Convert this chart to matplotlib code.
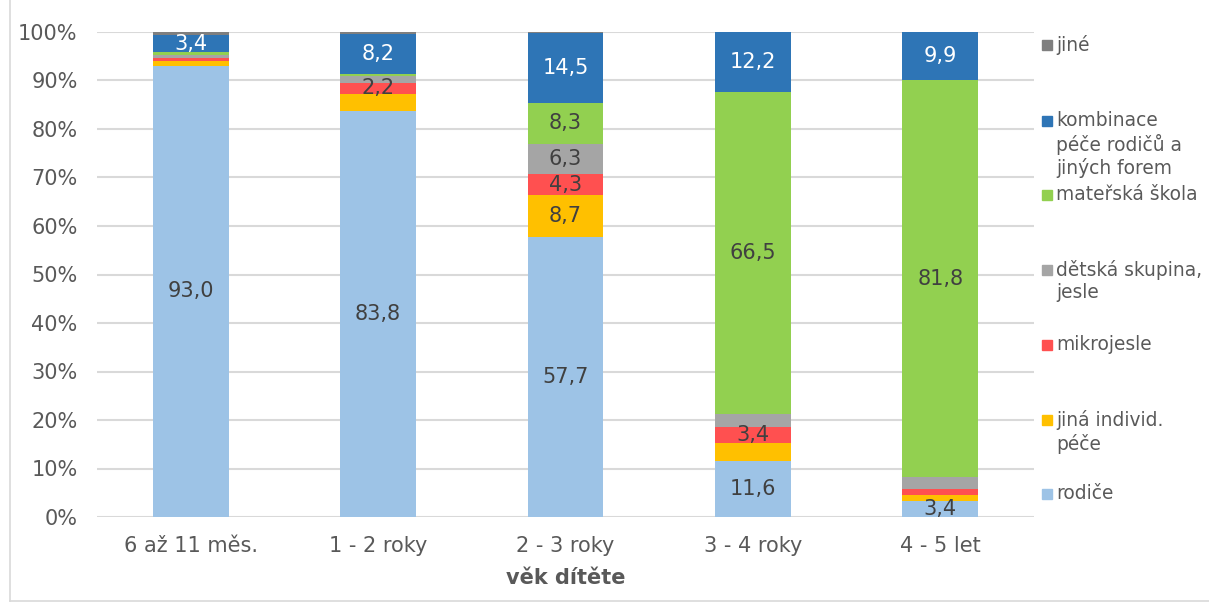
import matplotlib.pyplot as plt
import numpy as np
from matplotlib.patches import Rectangle
from matplotlib.lines import Line2D

plt.rcParams["font.family"] = ["DejaVu Sans"]

categories = ["6 až 11 měs.", "1 - 2 roky", "2 - 3 roky", "3 - 4 roky", "4 - 5 let"]

# series from bottom to top
series_names = ["rodiče", "jiná individ.\npéče", "mikrojesle", "dětská skupina,\njesle",
                "mateřská škola", "kombinace\npéče rodičů a\njiných forem", "jiné"]
rodice = [93.0, 83.8, 57.7, 11.6, 3.4]
jina_individ = [1.0, 3.5, 8.7, 3.6, 1.2]
mikrojesle = [0.6, 2.2, 4.3, 3.4, 1.2]
detska_skupina = [0.6, 1.4, 6.3, 2.6, 2.4]
materska_skola = [0.7, 0.4, 8.3, 66.5, 81.8]
kombinace = [3.4, 8.2, 14.5, 12.2, 9.9]
jine = [0.7, 0.5, 0.2, 0.1, 0.1]

# which values carry a data label
labelled = [
    [True, True, True, True, True],
    [False, False, True, False, False],
    [False, True, True, True, False],
    [False, False, True, False, False],
    [False, False, True, True, True],
    [True, True, True, True, True],
    [False, False, False, False, False],
]

colors = ["#9DC3E6", "#FFC000", "#FF5050", "#A5A5A5", "#92D050", "#2E75B6", "#7F7F7F"]
label_colors = ["#404040", "#404040", "#404040", "#404040", "#404040", "white", "white"]

data = [rodice, jina_individ, mikrojesle, detska_skupina, materska_skola, kombinace, jine]

fig = plt.figure(figsize=(12.09, 6.04), dpi=100)
ax = fig.add_axes([97 / 1209, 1 - 517 / 604, (1034 - 97) / 1209, (517 - 32) / 604])

x = np.arange(len(categories))
bottom = np.zeros(len(categories))
for vals, col, lcol, show in zip(data, colors, label_colors, labelled):
    vals = np.array(vals)
    ax.bar(x, vals, bottom=bottom, width=0.405, color=col, zorder=3)
    for i, v in enumerate(vals):
        if show[i]:
            ax.text(x[i], bottom[i] + v / 2, f"{v:.1f}".replace(".", ","),
                    ha="center", va="center", fontsize=15, color=lcol, zorder=4)
    bottom += vals

ax.set_xlim(-0.5, 4.5)
ax.set_ylim(0, 100)
ax.set_yticks(np.arange(0, 101, 10))
ax.set_yticklabels([f"{t}%" for t in range(0, 101, 10)])
ax.set_xticks(x)
ax.set_xticklabels(categories)
ax.grid(axis="y", color="#D9D9D9", linewidth=1.5, zorder=0)
for s in ax.spines.values():
    s.set_visible(False)
ax.tick_params(length=0, labelsize=15, labelcolor="#595959")
ax.tick_params(axis="x", pad=14)
ax.tick_params(axis="y", pad=14)
ax.set_xlabel("věk dítěte", fontsize=15, fontweight="bold", color="#595959", labelpad=8)

# legend, top entry first, evenly spaced first lines
leg_tops = [45, 121, 195, 270, 345, 420, 494]
for k, idx in enumerate(range(len(series_names) - 1, -1, -1)):
    yc = 1 - leg_tops[k] / 604
    fig.patches.append(Rectangle((1042 / 1209, yc - 5 / 604), 10 / 1209, 10 / 604,
                                 transform=fig.transFigure, color=colors[idx]))
    fig.text(1056 / 1209, yc + 10 / 604, series_names[idx], ha="left", va="top",
             fontsize=13.4, color="#595959", linespacing=1.22)

# outer chart frame (left and bottom edges visible)
fig.lines.append(Line2D([10 / 1209, 10 / 1209], [1, 3 / 604], transform=fig.transFigure,
                        color="#D9D9D9", lw=1.2))
fig.lines.append(Line2D([10 / 1209, 1], [3 / 604, 3 / 604], transform=fig.transFigure,
                        color="#D9D9D9", lw=1.2))

fig.savefig("out.png", dpi=100)
